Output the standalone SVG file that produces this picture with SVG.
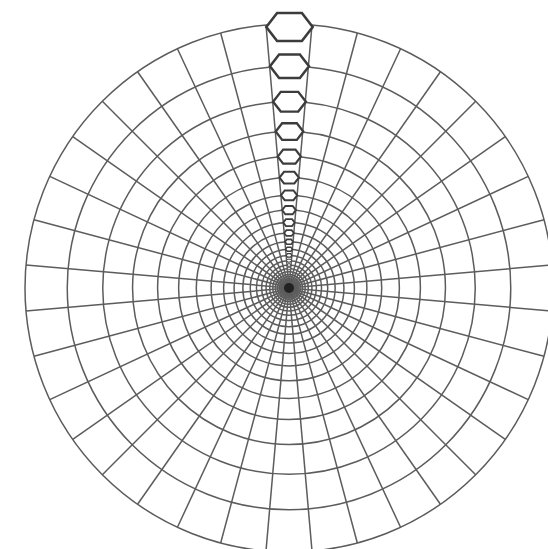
<svg xmlns="http://www.w3.org/2000/svg" width="548" height="549" viewBox="0 0 548 549">
<style>
.ring{fill:none;stroke:#5c5c5c;stroke-width:1.5}
.ray{stroke:#5c5c5c;stroke-width:1.5}
.hex{fill:#ffffff;stroke:#3c3c3c}
</style>
<rect width="548" height="549" fill="#ffffff"/>
<g id="rings" class="ring">
<circle cx="289" cy="288" r="264"/>
<circle cx="289" cy="288" r="221.75"/>
<circle cx="289" cy="288" r="186.26"/>
<circle cx="289" cy="288" r="156.45"/>
<circle cx="289" cy="288" r="131.41"/>
<circle cx="289" cy="288" r="110.38"/>
<circle cx="289" cy="288" r="92.71"/>
<circle cx="289" cy="288" r="77.88"/>
<circle cx="289" cy="288" r="65.41"/>
<circle cx="289" cy="288" r="54.94"/>
<circle cx="289" cy="288" r="46.15"/>
<circle cx="289" cy="288" r="38.76"/>
<circle cx="289" cy="288" r="32.56"/>
<circle cx="289" cy="288" r="27.35"/>
<circle cx="289" cy="288" r="22.97"/>
<circle cx="289" cy="288" r="19.30"/>
<circle cx="289" cy="288" r="16.21"/>
<circle cx="289" cy="288" r="13.61"/>
<circle cx="289" cy="288" r="11.44"/>
<circle cx="289" cy="288" r="9.61"/>
<circle cx="289" cy="288" r="8.07"/>
<circle cx="289" cy="288" r="6.78"/>
<circle cx="289" cy="288" r="5.69"/>
<circle cx="289" cy="288" r="4.78"/>
<circle cx="289" cy="288" r="4.02"/>
<circle cx="289" cy="288" r="3.37"/>
</g>
<g id="rays" class="ray">
<line x1="551.99" y1="264.99" x2="26.01" y2="311.01"/>
<line x1="544" y1="219.67" x2="34" y2="356.33"/>
<line x1="528.27" y1="176.43" x2="49.73" y2="399.57"/>
<line x1="505.26" y1="136.58" x2="72.74" y2="439.42"/>
<line x1="475.68" y1="101.32" x2="102.32" y2="474.68"/>
<line x1="440.42" y1="71.74" x2="137.58" y2="504.26"/>
<line x1="400.57" y1="48.73" x2="177.43" y2="527.27"/>
<line x1="357.33" y1="33" x2="220.67" y2="543"/>
<line x1="312.01" y1="25.01" x2="265.99" y2="550.99"/>
<line x1="265.99" y1="25.01" x2="312.01" y2="550.99"/>
<line x1="220.67" y1="33" x2="357.33" y2="543"/>
<line x1="177.43" y1="48.73" x2="400.57" y2="527.27"/>
<line x1="137.58" y1="71.74" x2="440.42" y2="504.26"/>
<line x1="102.32" y1="101.32" x2="475.68" y2="474.68"/>
<line x1="72.74" y1="136.58" x2="505.26" y2="439.42"/>
<line x1="49.73" y1="176.43" x2="528.27" y2="399.57"/>
<line x1="34" y1="219.67" x2="544" y2="356.33"/>
<line x1="26.01" y1="264.99" x2="551.99" y2="311.01"/>
</g>
<g id="hexagons" class="hex">
<polygon stroke-width="2.6" points="266.3,27 277.1,13 301.9,13 312.7,27 301.9,41 277.1,41"/>
<polygon stroke-width="2.5" points="270,66.25 279.1,54.45 299.9,54.45 309,66.25 299.9,78.05 279.1,78.05"/>
<polygon stroke-width="2.4" points="273.1,101.74 280.75,91.87 298.25,91.87 305.9,101.74 298.25,111.61 280.75,111.61"/>
<polygon stroke-width="2.3" points="275.73,131.55 282.15,123.26 296.85,123.26 303.27,131.55 296.85,139.84 282.15,139.84"/>
<polygon stroke-width="2.2" points="277.74,156.59 283.12,149.63 295.48,149.63 300.86,156.59 295.48,163.55 283.12,163.55"/>
<polygon stroke-width="2.1" points="279.49,177.62 284.01,171.77 294.39,171.77 298.91,177.62 294.39,183.47 284.01,183.47"/>
<polygon stroke-width="2" points="280.94,195.29 284.74,190.38 293.46,190.38 297.26,195.29 293.46,200.2 284.74,200.2"/>
<polygon stroke-width="1.9" points="282.15,210.12 285.34,205.99 292.66,205.99 295.85,210.12 292.66,214.25 285.34,214.25"/>
<polygon stroke-width="1.8" points="283.24,222.59 285.93,219.12 292.07,219.12 294.76,222.59 292.07,226.06 285.93,226.06"/>
<polygon stroke-width="1.7" points="284.17,233.06 286.42,230.15 291.58,230.15 293.83,233.06 291.58,235.97 286.42,235.97"/>
<polygon stroke-width="1.6" points="284.94,241.85 286.83,239.4 291.17,239.4 293.06,241.85 291.17,244.3 286.83,244.3"/>
<polygon stroke-width="1.4" points="285.59,249.24 287.18,247.19 290.82,247.19 292.41,249.24 290.82,251.29 287.18,251.29"/>
<polygon stroke-width="1.2" points="286.13,255.44 287.47,253.71 290.53,253.71 291.87,255.44 290.53,257.17 287.47,257.17"/>
<polygon stroke-width="1" points="286.59,260.65 287.71,259.2 290.29,259.2 291.41,260.65 290.29,262.1 287.71,262.1"/>
<polygon stroke-width="0.9" points="286.98,265.03 287.92,263.81 290.08,263.81 291.02,265.03 290.08,266.25 287.92,266.25"/>
<polygon stroke-width="0.8" points="287.3,268.7 288.09,267.68 289.91,267.68 290.7,268.7 289.91,269.72 288.09,269.72"/>
</g>
<circle id="hub" cx="289" cy="288" r="5" fill="#222222"/>
</svg>
